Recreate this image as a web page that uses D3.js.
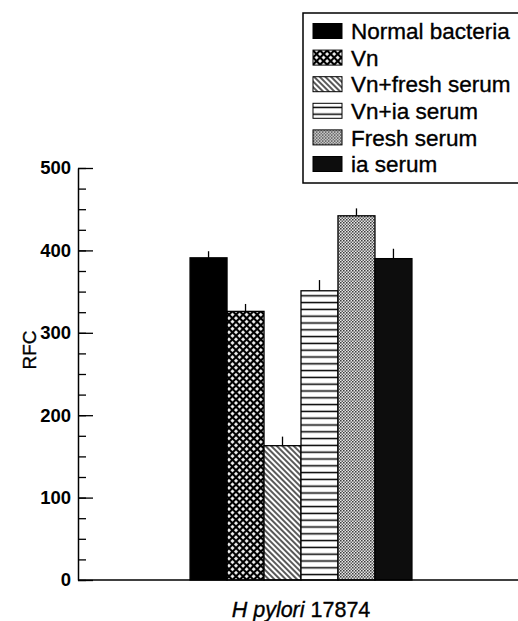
<!DOCTYPE html>
<html lang="en">
<head>
<meta charset="UTF-8">
<title>RFC H pylori 17874</title>
<script src="https://cdn.jsdelivr.net/npm/d3@7"></script>
<style>
  body { margin: 0; background: #fff; }
  svg { display: block; font-family: "Liberation Sans", Arial, sans-serif; }
  .tick text { font-weight: bold; font-size: 18.5px; fill: #000; }
  .heavy { stroke: #000; stroke-width: 0.35px; }
</style>
</head>
<body>
<svg width="518" height="621"></svg>
<script>
// data
var groups = ['H pylori 17874'];
var seriesNames = ['Normal bacteria', 'Vn', 'Vn+fresh serum', 'Vn+ia serum', 'Fresh serum', 'ia serum'];
var values = [391, 326, 163, 351, 442, 390];
var errors = [8, 9, 11, 13, 9, 12];
var yTicks = [0, 100, 200, 300, 400, 500];
var fills = ['#000', 'url(#pVn)', 'url(#pDiag)', 'url(#pHoriz)', 'url(#pDots)', '#0d0d0d'];

var svg = d3.select('svg');
var margin = { left: 78, top: 168, right: 0, bottom: 41 };
var width = +svg.attr('width');
var height = +svg.attr('height');

// fill patterns
var defs = svg.append('defs');
var p = defs.append('pattern').attr('id', 'pVn').attr('patternUnits', 'userSpaceOnUse')
    .attr('width', 5).attr('height', 5).attr('patternTransform', 'rotate(45)');
p.append('rect').attr('width', 5).attr('height', 5).attr('fill', '#000');
p.append('rect').attr('x', 1.1).attr('y', 1.1).attr('width', 2.8).attr('height', 2.8).attr('fill', '#fff');

p = defs.append('pattern').attr('id', 'pDiag').attr('patternUnits', 'userSpaceOnUse')
    .attr('width', 4).attr('height', 4).attr('patternTransform', 'rotate(45)');
p.append('rect').attr('width', 4).attr('height', 4).attr('fill', '#fff');
p.append('line').attr('x1', 0).attr('x2', 4).attr('y1', 2).attr('y2', 2)
    .attr('stroke', '#000').attr('stroke-width', 1.3);

p = defs.append('pattern').attr('id', 'pHoriz').attr('patternUnits', 'userSpaceOnUse')
    .attr('width', 10).attr('height', 6.8);
p.append('rect').attr('width', 10).attr('height', 6.8).attr('fill', '#fff');
p.append('line').attr('x1', 0).attr('x2', 10).attr('y1', 3.4).attr('y2', 3.4)
    .attr('stroke', '#000').attr('stroke-width', 1.5);

p = defs.append('pattern').attr('id', 'pDots').attr('patternUnits', 'userSpaceOnUse')
    .attr('width', 3).attr('height', 3);
p.append('rect').attr('width', 3).attr('height', 3).attr('fill', '#eee');
p.append('rect').attr('width', 1.5).attr('height', 1.5).attr('fill', '#333');
p.append('rect').attr('x', 1.5).attr('y', 1.5).attr('width', 1.5).attr('height', 1.5).attr('fill', '#555');

var innerHeight = height - margin.top - margin.bottom;

var x0 = d3.scaleBand().domain(groups).range([margin.left, 524]).paddingOuter(0.505);
var x1 = d3.scaleBand().domain(seriesNames).range([0, x0.bandwidth()]);
var y = d3.scaleLinear().domain([0, 500]).range([margin.top + innerHeight, margin.top]);

// bars
var rows = seriesNames.map((s, i) => ({ name: s, value: values[i], err: errors[i], fill: fills[i] }));
var g = svg.append('g').attr('transform', `translate(${x0(groups[0])},0)`);

g.selectAll('line.err').data(rows).enter().append('line')
    .attr('class', 'err')
    .attr('x1', d => x1(d.name) + x1.bandwidth() / 2)
    .attr('x2', d => x1(d.name) + x1.bandwidth() / 2)
    .attr('y1', d => y(d.value))
    .attr('y2', d => y(d.value + d.err))
    .attr('stroke', '#000').attr('stroke-width', 1.3);

g.selectAll('rect.bar').data(rows).enter().append('rect')
    .attr('class', 'bar')
    .attr('x', d => x1(d.name))
    .attr('y', d => y(d.value))
    .attr('width', x1.bandwidth())
    .attr('height', d => y(0) - y(d.value))
    .attr('fill', d => d.fill)
    .attr('stroke', '#000').attr('stroke-width', 1.3);

// y axis, ticks pointing inward
var yAxisG = svg.append('g').attr('transform', `translate(${margin.left},0)`);
yAxisG.call(d3.axisLeft(y).tickValues(d3.range(0, 501, 25)).tickSizeInner(-8).tickSizeOuter(0).tickFormat(''));
yAxisG.call(g2 => g2.selectAll('.tick line').attr('stroke-width', 1.3));
var yMajor = svg.append('g').attr('transform', `translate(${margin.left},0)`)
    .call(d3.axisLeft(y).tickValues(yTicks).tickSizeInner(-15).tickSizeOuter(0).tickPadding(7));
yMajor.select('.domain').remove();
yMajor.selectAll('.tick line').attr('stroke-width', 1.3);
yAxisG.select('.domain').attr('stroke-width', 1.5);

// x axis line
svg.append('line')
    .attr('x1', margin.left).attr('x2', width)
    .attr('y1', y(0)).attr('y2', y(0))
    .attr('stroke', '#000').attr('stroke-width', 1.5);

// axis titles
svg.append('text')
    .attr('class', 'heavy')
    .attr('transform', 'translate(36,350) rotate(-90)')
    .attr('text-anchor', 'middle')
    .style('font-size', '19px')
    .text('RFC');

var xt = svg.append('text')
    .attr('class', 'heavy')
    .attr('x', x0(groups[0]) + x0.bandwidth() / 2)
    .attr('y', 617)
    .attr('text-anchor', 'middle')
    .style('font-size', '21.5px');
xt.append('tspan').style('font-style', 'italic').text('H pylori');
xt.append('tspan').text(' 17874');

// legend
var legend = svg.append('g');
legend.append('rect')
    .attr('x', 303).attr('y', 13).attr('width', 230).attr('height', 170)
    .attr('fill', '#fff').attr('stroke', '#000').attr('stroke-width', 1.5);
var ly = d3.scalePoint().domain(seriesNames).range([31, 164]);
var li = legend.selectAll('g.item').data(rows).enter().append('g')
    .attr('class', 'item')
    .attr('transform', d => `translate(313,${ly(d.name)})`);
li.append('rect')
    .attr('y', -7.5).attr('width', 29).attr('height', 15)
    .attr('fill', d => d.fill).attr('stroke', '#000').attr('stroke-width', 1);
li.append('text')
    .attr('class', 'heavy')
    .attr('x', 38).attr('dy', '0.36em')
    .style('font-size', '22.5px')
    .text(d => d.name);
</script>
</body>
</html>
